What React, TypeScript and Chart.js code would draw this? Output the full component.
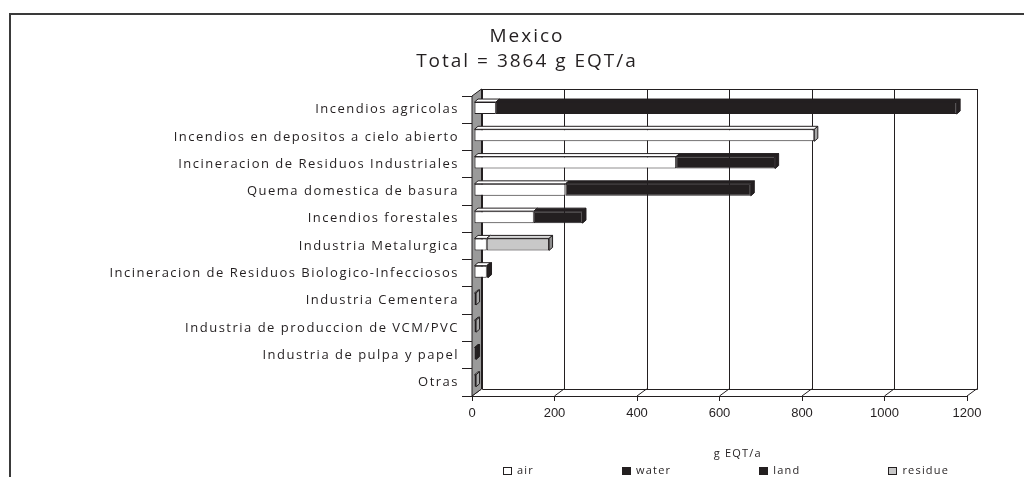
import React, { useEffect, useRef } from 'react';
import { Chart, registerables } from 'chart.js';

Chart.register(...registerables);

// ---------------- data ----------------
const categories = [
  'Incendios agricolas',
  'Incendios en depositos a cielo abierto',
  'Incineracion de Residuos Industriales',
  'Quema domestica de basura',
  'Incendios forestales',
  'Industria Metalurgica',
  'Incineracion de Residuos Biologico-Infecciosos',
  'Industria Cementera',
  'Industria de produccion de VCM/PVC',
  'Industria de pulpa y papel',
  'Otras',
];
const seriesNames = ['air', 'water', 'land', 'residue'];
const airValues = [53, 825, 490, 222, 145, 31, 31, 5, 5, 0, 5];
const waterValues = [0, 0, 0, 0, 0, 0, 0, 0, 0, 5, 0];
const landValues = [1117, 0, 240, 449, 118, 0, 3, 0, 0, 0, 0];
const residueValues = [0, 0, 0, 0, 0, 151, 0, 0, 0, 0, 0];
const xTickValues = [0, 200, 400, 600, 800, 1000, 1200];
const titleLines = ['Mexico', 'Total = 3864 g EQT/a'];
const axisTitle = 'g EQT/a';

// ---------------- styles ----------------
const INK = '#231f20';
const FRONT = ['#ffffff', INK, INK, '#c8c8c8'];
const TOP = ['#ffffff', INK, INK, '#dadada'];
const SIDE = ['#a6a6a6', INK, INK, '#8e8e8e'];
const WALL = '#9a9a9a';
const SANS = '"Open Sans", "DejaVu Sans", sans-serif';
const DIGITS = '"Liberation Sans", Arial, sans-serif';

const WALL_DX = 9.5;
const WALL_DY = -7;
const BAR_SHIFT_X = 2;
const BAR_SHIFT_Y = -1.6;
const BAR_DX = 3.5;
const BAR_DY = -3;

const seriesValues = [airValues, waterValues, landValues, residueValues];

function spacingFor(font: string): string {
  if (font.includes('Liberation')) return '0px';
  if (font.includes('19px')) return '2px';
  if (font.includes('13px')) return '1.5px';
  return '1.2px';
}

function patchContext(ctx: any) {
  if (ctx.__spaced) return;
  ctx.__spaced = true;
  const fill = ctx.fillText.bind(ctx);
  const measure = ctx.measureText.bind(ctx);
  ctx.fillText = (t: string, x: number, y: number, mw?: number) => {
    ctx.letterSpacing = spacingFor(ctx.font);
    if (mw === undefined || mw === null) fill(t, x, y);
    else fill(t, x, y, mw);
  };
  ctx.measureText = (t: string) => {
    ctx.letterSpacing = spacingFor(ctx.font);
    return measure(t);
  };
}

const framePlugin = {
  id: 'frame',
  beforeDraw(chart: any) {
    const { ctx, width, height } = chart;
    ctx.save();
    ctx.fillStyle = '#ffffff';
    ctx.fillRect(0, 0, width, height);
    ctx.strokeStyle = '#3a3a3a';
    ctx.lineWidth = 2;
    ctx.strokeRect(10, 14, width + 20, height + 20);
    ctx.restore();
  },
};

const depthPlugin = {
  id: 'depth',
  beforeDatasetsDraw(chart: any) {
    const { ctx, chartArea: a, scales } = chart;
    const x = scales.x;
    const r = (v: number) => Math.round(v) + 0.5;
    ctx.save();
    ctx.strokeStyle = INK;
    ctx.lineWidth = 1;
    // back wall
    ctx.beginPath();
    ctx.rect(r(a.left + WALL_DX), r(a.top + WALL_DY), Math.round(a.right - a.left), Math.round(a.bottom - a.top));
    ctx.stroke();
    // gridlines on back wall and floor depth lines
    x.ticks.forEach((t: any) => {
      const px = x.getPixelForValue(t.value);
      ctx.beginPath();
      ctx.moveTo(r(px + WALL_DX), a.top + WALL_DY);
      ctx.lineTo(r(px + WALL_DX), a.bottom + WALL_DY);
      ctx.stroke();
      ctx.beginPath();
      ctx.moveTo(px, a.bottom);
      ctx.lineTo(px + WALL_DX, a.bottom + WALL_DY);
      ctx.stroke();
    });
    // left wall
    ctx.beginPath();
    ctx.moveTo(a.left, a.top);
    ctx.lineTo(a.left + WALL_DX, a.top + WALL_DY);
    ctx.lineTo(a.left + WALL_DX, a.bottom + WALL_DY);
    ctx.lineTo(a.left, a.bottom);
    ctx.closePath();
    ctx.fillStyle = WALL;
    ctx.fill();
    ctx.stroke();
    ctx.restore();

    ctx.save();
    ctx.translate(BAR_SHIFT_X, BAR_SHIFT_Y);
  },
  afterDatasetsDraw(chart: any) {
    const { ctx } = chart;
    ctx.lineWidth = 1;
    ctx.strokeStyle = INK;
    ctx.lineJoin = 'miter';
    categories.forEach((_, i) => {
      const segs: any[] = [];
      chart.data.datasets.forEach((ds: any, d: number) => {
        if (!ds.data[i]) return;
        const el = chart.getDatasetMeta(d).data[i];
        const p = el.getProps(['x', 'y', 'base', 'height'], true);
        segs.push({ d, left: Math.min(p.x, p.base), right: Math.max(p.x, p.base), top: p.y - p.height / 2, bottom: p.y + p.height / 2 });
      });
      segs.forEach((s, k) => {
        ctx.beginPath();
        ctx.moveTo(s.left, s.top);
        ctx.lineTo(s.left + BAR_DX, s.top + BAR_DY);
        ctx.lineTo(s.right + BAR_DX, s.top + BAR_DY);
        ctx.lineTo(s.right, s.top);
        ctx.closePath();
        ctx.fillStyle = TOP[s.d];
        ctx.fill();
        ctx.stroke();
        if (k === segs.length - 1) {
          ctx.beginPath();
          ctx.moveTo(s.right, s.top);
          ctx.lineTo(s.right + BAR_DX, s.top + BAR_DY);
          ctx.lineTo(s.right + BAR_DX, s.bottom + BAR_DY);
          ctx.lineTo(s.right, s.bottom);
          ctx.closePath();
          ctx.fillStyle = SIDE[s.d];
          ctx.fill();
          ctx.stroke();
        }
      });
    });
    ctx.restore();
  },
};

const legendPlugin = {
  id: 'bottomLegend',
  afterDraw(chart: any) {
    const { ctx, chartArea: a } = chart;
    ctx.save();
    ctx.font = '11px ' + SANS;
    ctx.textBaseline = 'middle';
    ctx.textAlign = 'left';
    let x = a.left + 31;
    const y = 471;
    seriesNames.forEach((name, i) => {
      ctx.fillStyle = FRONT[i];
      ctx.fillRect(Math.round(x), y - 4, 9, 8);
      ctx.strokeStyle = INK;
      ctx.lineWidth = 1;
      ctx.strokeRect(Math.round(x) + 0.5, y - 3.5, 8, 7);
      ctx.fillStyle = INK;
      ctx.fillText(name, x + 14, y);
      x += 14 + ctx.measureText(name).width + 88;
    });
    ctx.restore();
  },
};

export default function App() {
  const ref = useRef<HTMLCanvasElement>(null);

  useEffect(() => {
    const canvas = ref.current;
    if (!canvas) return;
    const ctx = canvas.getContext('2d') as any;
    patchContext(ctx);
    const chart = new Chart(ctx, {
      type: 'bar',
      data: {
        labels: categories,
        datasets: seriesNames.map((name, i) => ({
          label: name,
          data: seriesValues[i],
          backgroundColor: FRONT[i],
          borderColor: INK,
          borderWidth: 1,
          borderSkipped: false,
          barPercentage: 0.44,
          categoryPercentage: 1,
        })),
      },
      options: {
        indexAxis: 'y',
        responsive: false,
        animation: false,
        devicePixelRatio: 1,
        layout: { padding: { left: 87, right: 57, top: 0, bottom: 17 } },
        scales: {
          x: {
            stacked: true,
            min: 0,
            max: 1200,
            afterBuildTicks: (s: any) => {
              s.ticks = xTickValues.map((v) => ({ value: v }));
            },
            ticks: {
              color: INK,
              font: { family: DIGITS, size: 13 },
              padding: 5,
              maxRotation: 0,
              autoSkip: false,
              callback: (v: any) => String(v),
            },
            grid: { drawOnChartArea: false, tickLength: 5, color: INK },
            border: { color: INK, width: 1 },
            title: {
              display: true,
              text: '         ' + axisTitle,
              color: INK,
              font: { family: SANS, size: 11, lineHeight: 1.2 },
              padding: { top: 0, bottom: 0 },
            },
            afterFit: (s: any) => {
              s.height = 64;
            },
          },
          y: {
            stacked: true,
            ticks: {
              color: INK,
              font: { family: SANS, size: 13 },
              padding: 3,
              autoSkip: false,
            },
            grid: { drawOnChartArea: false, tickLength: 10, color: INK },
            border: { color: INK, width: 1 },
            afterFit: (s: any) => {
              s.width = 385;
            },
          },
        },
        plugins: {
          legend: { display: false },
          tooltip: { enabled: false },
          title: {
            display: true,
            text: titleLines,
            color: INK,
            font: { family: SANS, size: 19, weight: 'normal', lineHeight: 25 / 19 },
            padding: { top: 24.5, bottom: 21.5 },
          },
        },
      } as any,
      plugins: [framePlugin, depthPlugin, legendPlugin],
    });
    return () => chart.destroy();
  }, []);

  return (
    <div style={{ position: 'fixed', left: 0, top: 0, width: 1024, height: 477, background: '#fff' }}>
      <canvas ref={ref} width={1024} height={477} style={{ display: 'block' }} />
    </div>
  );
}
